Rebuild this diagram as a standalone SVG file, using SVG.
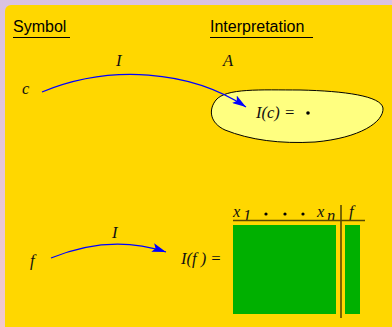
<svg xmlns="http://www.w3.org/2000/svg" width="392" height="327" viewBox="0 0 392 327">
<defs>
<linearGradient id="bg" x1="0" y1="0" x2="0" y2="1">
<stop offset="0" stop-color="#d9c2e3"/>
<stop offset="1" stop-color="#f2c8cc"/>
</linearGradient>
<marker id="ah" viewBox="0 0 14 9" refX="14" refY="4.5" markerWidth="14" markerHeight="9" markerUnits="userSpaceOnUse" orient="auto">
<path d="M0,0 L14,4.5 L0,9 L3,4.5 Z" fill="#0000ff"/>
</marker>
</defs>
<style>
.hd{font-family:"Liberation Sans",Arial,sans-serif;font-size:16px;fill:#000}
.m{font-family:"Liberation Serif","Times New Roman",serif;font-style:italic;font-size:16.5px;fill:#111}
.ul{stroke:#000;stroke-width:1.2}
.arc{fill:none;stroke:#0000ff;stroke-width:1.3;marker-end:url(#ah)}
.grn{fill:#00b000}
.rule{stroke:#5a4a00;stroke-width:1.6}
</style>
<rect x="0" y="0" width="392" height="327" fill="url(#bg)"/>
<rect x="5" y="5" width="400" height="340" rx="6" fill="#ffd700"/>
<g id="headers">
<text class="hd" x="13" y="32">Symbol</text>
<line class="ul" x1="13" y1="37.5" x2="70" y2="37.5"/>
<text class="hd" x="210" y="32">Interpretation</text>
<line class="ul" x1="210" y1="37.5" x2="313" y2="37.5"/>
</g>
<g id="constant-symbol">
<text class="m" x="22" y="94">c</text>
</g>
<g id="domain">
<text class="m" x="223" y="66">A</text>
<path d="M216,100 C226,88 260,90 300,90 C345,91 381,96 383,108 C384,122 360,138 315,142 C280,144 250,140 225,130 C210,123 208,110 216,100 Z" fill="#ffff80" stroke="#000" stroke-width="1"/>
<text class="m" x="256" y="118">I(c) =</text>
<circle cx="308" cy="113" r="1.8" fill="#000"/>
</g>
<g id="function-symbol">
<text class="m" x="30" y="266">f</text>
</g>
<g id="function-table">
<text class="m" x="181" y="264">I(f ) =</text>
<text class="m" x="233" y="217">x</text>
<text class="m" x="243" y="221" font-size="12">1</text>
<circle cx="266" cy="214" r="1.6" fill="#000"/>
<circle cx="285" cy="214" r="1.6" fill="#000"/>
<circle cx="303" cy="214" r="1.6" fill="#000"/>
<text class="m" x="317" y="217">x</text>
<text class="m" x="327" y="221" font-size="12">n</text>
<text class="m" x="349" y="217">f</text>
<line class="rule" x1="233" y1="220.5" x2="365" y2="220.5"/>
<line class="rule" x1="341" y1="205" x2="341" y2="318"/>
<rect class="grn" x="233" y="225" width="103" height="89"/>
<rect class="grn" x="345" y="225" width="15" height="89"/>
</g>
<g id="connectors">
<text class="m" x="116" y="66">I</text>
<path class="arc" d="M42,92 C110,64 190,70 246,107"/>
<text class="m" x="112" y="238">I</text>
<path class="arc" d="M51,258 C90,242 130,240 166,252"/>
</g>
</svg>
